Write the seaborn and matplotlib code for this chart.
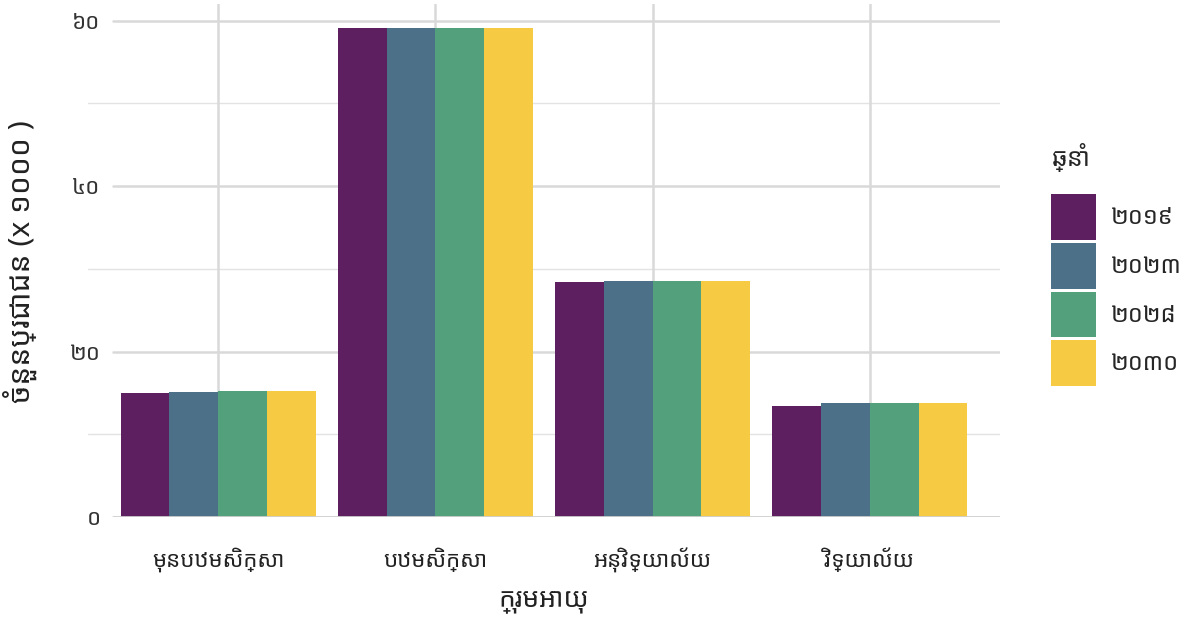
import matplotlib
matplotlib.use("Agg")
import matplotlib.pyplot as plt
import pandas as pd
import seaborn as sns

# data
groups = ["មុនបឋមសិក្សា", "បឋមសិក្សា", "អនុវិទ្យាល័យ", "វិទ្យាល័យ"]
years = ["២០១៩", "២០២៣", "២០២៨", "២០៣០"]
val_2019 = [15.0, 59.1, 28.4, 13.4]
val_2023 = [15.1, 59.1, 28.5, 13.75]
val_2028 = [15.2, 59.1, 28.5, 13.75]
val_2030 = [15.2, 59.1, 28.5, 13.75]
ytick_vals = [0, 20, 40, 60]
ytick_labels = ["០", "២០", "៤០", "៦០"]
colors = ["#5d1f5f", "#4c7087", "#52a07c", "#f7ca44"]

rows = []
for yr, vals in zip(years, [val_2019, val_2023, val_2028, val_2030]):
    for g, v in zip(groups, vals):
        rows.append({"group": g, "year": yr, "value": v})
df = pd.DataFrame(rows)

sns.set_theme(style="white")
plt.rcParams["font.family"] = ["Noto Sans Khmer", "Battambang", "DejaVu Sans"]

fig = plt.figure(figsize=(11.92, 6.3), dpi=100)
ax = fig.add_axes([88 / 1192, 113 / 630, 912 / 1192, 513 / 630])

# grid (major lines start right of the tick labels)
for y in [10, 30, 50]:
    ax.axhline(y, color="#e3e3e3", lw=1.0, zorder=0)
for y in [20, 40, 60]:
    ax.axhline(y, xmin=25 / 912, color="#d9d9d9", lw=1.8, zorder=0)
for x in range(4):
    ax.axvline(x, color="#d9d9d9", lw=1.8, zorder=0)

sns.barplot(data=df, x="group", y="value", hue="year", palette=colors,
            width=0.9, gap=0, saturation=1, linewidth=0, ax=ax, zorder=2)
ax.axhline(0, xmin=25 / 912, color="#cfcfcf", lw=2, zorder=3)

ax.set_xlim(-0.6, 3.6)
ax.set_ylim(0, 62)
ax.set_yticks(ytick_vals)
ax.set_yticklabels(ytick_labels, fontsize=16, color="#333333")
ax.tick_params(axis="x", length=17, width=1.5, color="#d9d9d9", labelsize=16,
               labelcolor="#222222", pad=5)
ax.tick_params(axis="y", length=0, pad=-9)
for s in ax.spines.values():
    s.set_visible(False)
ax.set_xlabel("ក្រុមអាយុ", fontsize=19, color="#222222", labelpad=10)
ax.set_ylabel("")
fig.text(20 / 1192, 1 - 262 / 630, "ចំនួនប្រជាជន (x ១០០០ )", fontsize=21.5,
         color="#222222", rotation=90, ha="center", va="center")

leg = ax.legend(title="ឆ្នាំ", loc="upper left", bbox_to_anchor=(1.033, 0.77),
                frameon=False, fontsize=17, title_fontsize=18,
                handlelength=1.9, handleheight=2.6, labelspacing=0.12,
                handletextpad=0.6)
leg._legend_box.align = "left"
leg._legend_box.sep = 16

fig.savefig("out.png", dpi=100)
